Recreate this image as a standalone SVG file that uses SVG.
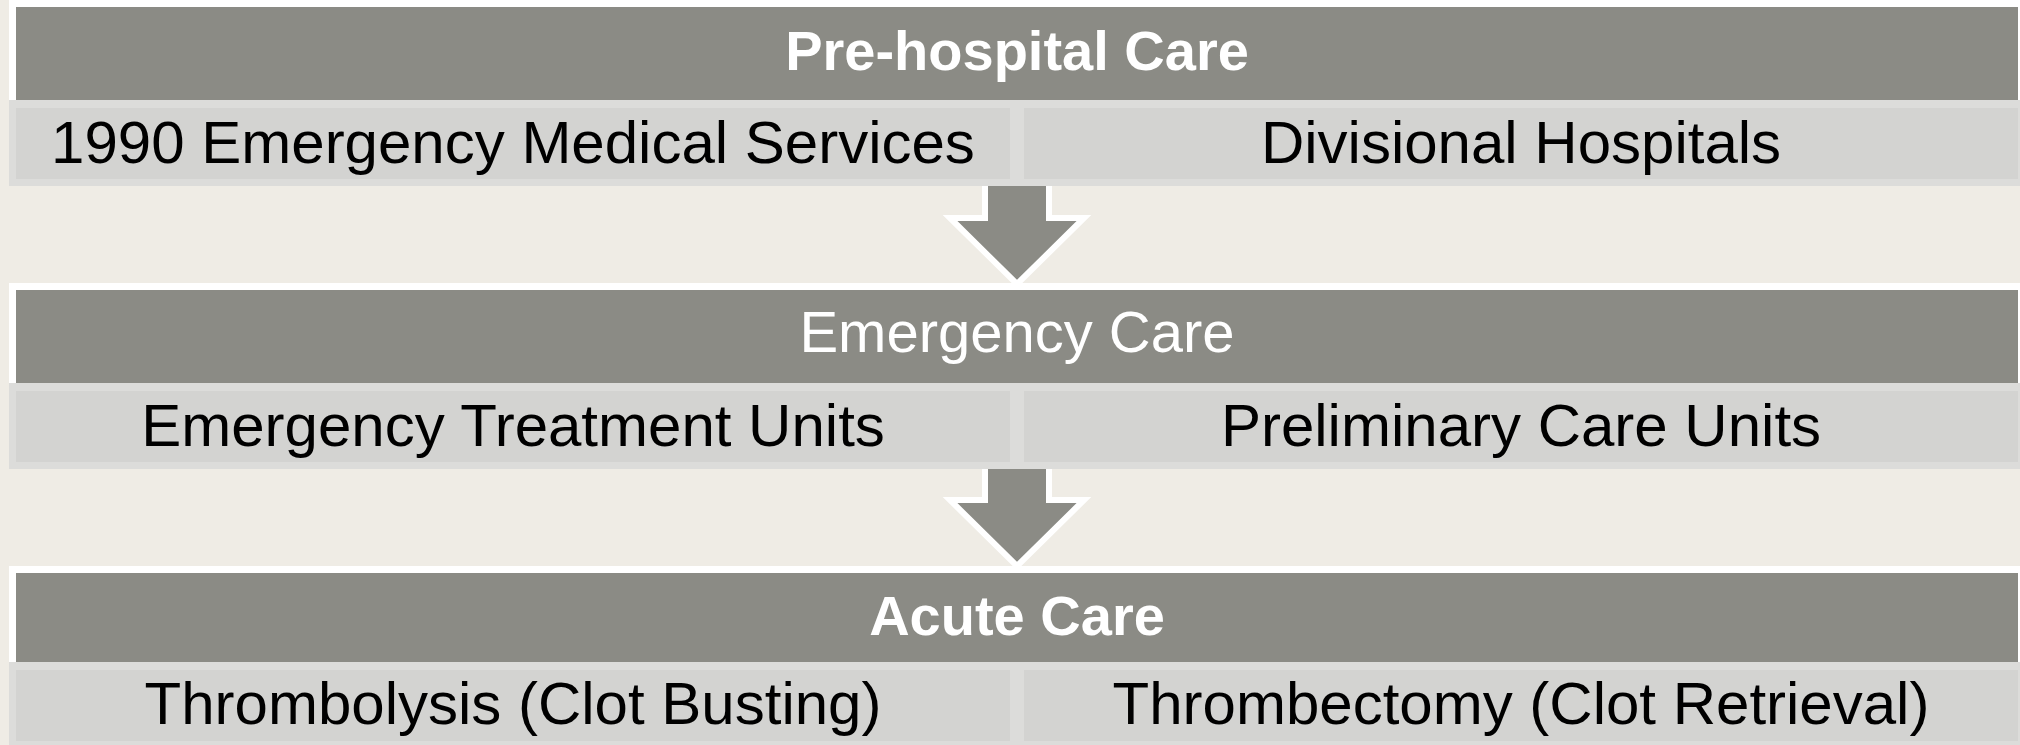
<svg xmlns="http://www.w3.org/2000/svg" width="2020" height="745" viewBox="0 0 2020 745">
<style>
.bg{fill:#EFECE5}
.frame{fill:#FFFFFF}
.head{fill:#8B8B85}
.band{fill:#DCDCDA}
.cell{fill:#D3D3D1}
.arrow{fill:#8B8B85;stroke:#FFFFFF;stroke-width:6;stroke-linejoin:miter;stroke-miterlimit:10}
.ht{font-family:"Liberation Sans",Arial,sans-serif;fill:#FFFFFF;text-anchor:middle}
.hb{font-size:56px;font-weight:bold}
.hr{font-size:58px}
.ct{font-family:"Liberation Sans",Arial,sans-serif;fill:#000000;text-anchor:middle;font-size:60px}
</style>
<rect class="bg" x="0" y="0" width="2020" height="745"/>
<g id="connectors">
<path class="arrow" d="M985,176 L985,218 L950,218 L1017,284 L1084,218 L1049,218 L1049,176"/>
<path class="arrow" d="M985,458 L985,500 L950,500 L1017,566 L1084,500 L1049,500 L1049,458"/>
</g>
<g id="prehospital">
<rect class="frame" x="9" y="0" width="2016" height="100"/>
<rect class="head" x="16" y="7" width="2002" height="93"/>
<text class="ht hb" x="1017" y="70">Pre-hospital Care</text>
<rect class="band" x="9" y="100" width="2016" height="86"/>
</g>
<g id="ems">
<rect class="cell" x="16" y="108" width="994" height="71"/>
<text class="ct" x="513" y="163">1990 Emergency Medical Services</text>
</g>
<g id="divisional">
<rect class="cell" x="1024" y="108" width="994" height="71"/>
<text class="ct" x="1521" y="163">Divisional Hospitals</text>
</g>
<g id="emergency">
<rect class="frame" x="9" y="283" width="2016" height="100"/>
<rect class="head" x="16" y="290" width="2002" height="93"/>
<text class="ht hr" x="1017" y="352">Emergency Care</text>
<rect class="band" x="9" y="383" width="2016" height="86"/>
</g>
<g id="etu">
<rect class="cell" x="16" y="391" width="994" height="71"/>
<text class="ct" x="513" y="446">Emergency Treatment Units</text>
</g>
<g id="pcu">
<rect class="cell" x="1024" y="391" width="994" height="71"/>
<text class="ct" x="1521" y="446">Preliminary Care Units</text>
</g>
<g id="acute">
<rect class="frame" x="9" y="566" width="2016" height="96"/>
<rect class="head" x="16" y="573" width="2002" height="89"/>
<text class="ht hb" x="1017" y="635">Acute Care</text>
<rect class="band" x="9" y="662" width="2016" height="83"/>
</g>
<g id="thrombolysis">
<rect class="cell" x="16" y="670" width="994" height="71"/>
<text class="ct" x="513" y="724">Thrombolysis (Clot Busting)</text>
</g>
<g id="thrombectomy">
<rect class="cell" x="1024" y="670" width="994" height="71"/>
<text class="ct" x="1521" y="724">Thrombectomy (Clot Retrieval)</text>
</g>
</svg>
